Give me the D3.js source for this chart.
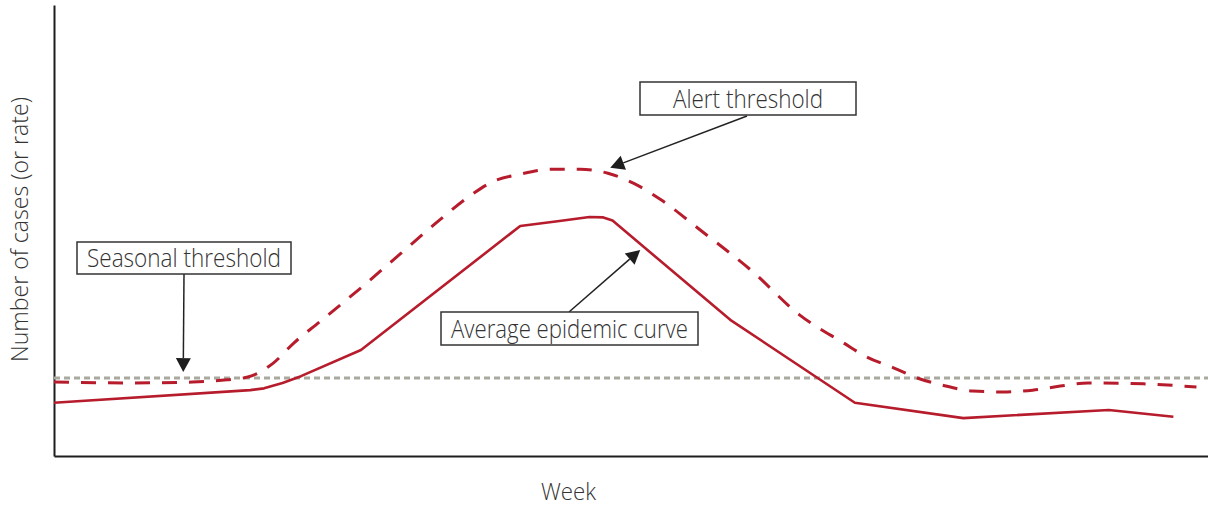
<!DOCTYPE html>
<html>
<head>
<meta charset="utf-8">
<script src="https://cdn.jsdelivr.net/npm/d3@7"></script>
<style>
  body { margin: 0; background: #fff; }
  text { font-family: "Open Sans", "Noto Sans", sans-serif; fill: #333; }
</style>
</head>
<body>
<svg id="chart" width="1208" height="508"></svg>
<script>
// weeks (arbitrary units) and values (arbitrary units)
const epidemicWeeks  = [0, 8.5, 9.1, 9.9, 10.7, 13.3, 20.2, 21.9, 23.2, 23.8, 24.2, 29.3, 34.7, 39.4, 45.7, 48.5];
const epidemicValues = [11.8, 14.6, 15.0, 16.2, 17.7, 23.5, 51.0, 52.1, 53.0, 52.9, 52.2, 30.2, 11.8, 8.4, 10.2, 8.7];

const alertWeeks  = [0, 3.2, 6.0, 7.5, 8.4, 9.5, 10.4, 11.5, 13.3, 15.0, 16.7, 18.0, 19.0, 20.2, 21.6, 22.8,
                     24.0, 25.1, 26.3, 28.0, 30.2, 32.3, 34.2, 35.2, 36.4, 37.4, 38.5, 39.8, 41.1, 42.4,
                     43.6, 44.8, 47.2, 49.5];
const alertValues = [16.4, 16.2, 16.4, 16.9, 17.5, 20.6, 25.1, 29.7, 37.3, 44.8, 52.3, 57.6, 60.8, 62.5, 63.6, 63.6,
                     62.7, 60.5, 56.8, 50.1, 41.2, 31.3, 25.1, 22.0, 19.5, 17.3, 15.7, 14.4, 14.2, 14.6,
                     15.5, 16.2, 16.0, 15.3];

const seasonalThreshold = 17.3;

const annotationLabels = ["Seasonal threshold", "Alert threshold", "Average epidemic curve"];
const annotationTipWeeks  = [5.6, 24.1, 25.4];
const annotationTipValues = [18.6, 63.9, 45.7];

const xLabel = "Week";
const yLabel = "Number of cases (or rate)";

// layout
const svg = d3.select('#chart');
const red = '#b71c2c';
const x = d3.scaleLinear().domain([0, 50]).range([54, 1208]);
const y = d3.scaleLinear().domain([0, 100]).range([456, 5]);

// axes: only the domain lines, no ticks
svg.append('g')
    .attr('transform', `translate(0,${y(0)})`)
    .call(d3.axisBottom(x).ticks(0).tickSizeOuter(0))
    .call(g => g.select('.domain').attr('stroke', '#1e1e1e').attr('stroke-width', 2));
svg.append('g')
    .attr('transform', `translate(${x(0)},0)`)
    .call(d3.axisLeft(y).ticks(0).tickSizeOuter(0))
    .call(g => g.select('.domain').attr('stroke', '#1e1e1e').attr('stroke-width', 2));

// seasonal threshold (grey dotted)
svg.append('line')
    .attr('x1', x(0)).attr('x2', x(50))
    .attr('y1', y(seasonalThreshold)).attr('y2', y(seasonalThreshold))
    .attr('stroke', '#a9a9a0')
    .attr('stroke-width', 3)
    .attr('stroke-dasharray', '6,4');

const smooth = d3.line()
    .x(d => x(d[0]))
    .y(d => y(d[1]))
    .curve(d3.curveMonotoneX);

const straight = d3.line()
    .x(d => x(d[0]))
    .y(d => y(d[1]));

svg.append('path')
    .datum(d3.zip(alertWeeks, alertValues))
    .attr('d', smooth)
    .attr('fill', 'none')
    .attr('stroke', red)
    .attr('stroke-width', 3)
    .attr('stroke-dasharray', '15,12');

svg.append('path')
    .datum(d3.zip(epidemicWeeks, epidemicValues))
    .attr('d', straight)
    .attr('fill', 'none')
    .attr('stroke', red)
    .attr('stroke-width', 2.6)
    .attr('stroke-linejoin', 'round');

// annotation boxes (pixel layout) with arrows to data points
const boxes = [
  { x: 77,  y: 242, w: 214, h: 32, from: [184, 274], len: 194 },
  { x: 640, y: 82,  w: 216, h: 33, from: [747, 116], len: 150 },
  { x: 441, y: 312, w: 257, h: 33, from: [569, 312], len: 237 }
];

annotationLabels.forEach((label, i) => {
  const b = boxes[i];
  const tx = x(annotationTipWeeks[i]), ty = y(annotationTipValues[i]);
  const [fx, fy] = b.from;
  const a = Math.atan2(ty - fy, tx - fx);
  const hl = 14, hw = 7.5;
  const bx = tx - hl * Math.cos(a), by = ty - hl * Math.sin(a);

  svg.append('line')
      .attr('x1', fx).attr('y1', fy).attr('x2', bx).attr('y2', by)
      .attr('stroke', '#222').attr('stroke-width', 1.5);
  svg.append('path')
      .attr('d', `M${tx},${ty}L${bx + hw * Math.sin(a)},${by - hw * Math.cos(a)}L${bx - hw * Math.sin(a)},${by + hw * Math.cos(a)}Z`)
      .attr('fill', '#1e1e1e');

  svg.append('rect')
      .attr('x', b.x).attr('y', b.y).attr('width', b.w).attr('height', b.h)
      .attr('fill', '#fff').attr('stroke', '#333').attr('stroke-width', 1.5);
  svg.append('text')
      .attr('x', b.x + b.w / 2).attr('y', b.y + b.h - 7.5)
      .attr('text-anchor', 'middle')
      .attr('font-size', 25)
      .attr('font-weight', 300)
      .attr('textLength', b.len)
      .attr('lengthAdjust', 'spacingAndGlyphs')
      .text(label);
});

// axis titles
svg.append('text')
    .attr('x', 568.5).attr('y', 500)
    .attr('text-anchor', 'middle')
    .attr('font-size', 23)
    .attr('font-weight', 300)
    .attr('textLength', 55)
    .attr('lengthAdjust', 'spacingAndGlyphs')
    .text(xLabel);

svg.append('text')
    .attr('transform', 'translate(28,229.5) rotate(-90)')
    .attr('text-anchor', 'middle')
    .attr('font-size', 24)
    .attr('font-weight', 300)
    .attr('textLength', 265)
    .attr('lengthAdjust', 'spacingAndGlyphs')
    .text(yLabel);
</script>
</body>
</html>
